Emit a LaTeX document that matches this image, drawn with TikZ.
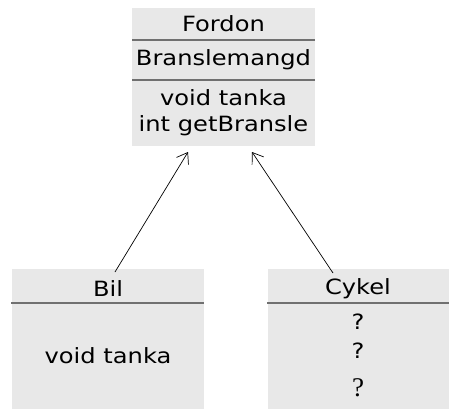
\documentclass[tikz,border=0pt]{standalone}
\usepackage{fontspec}
\setmainfont[FakeStretch=1.15]{DejaVu Sans}
\newfontfamily\qserif{Liberation Serif}
\usetikzlibrary{arrows.meta}
\definecolor{boxfill}{HTML}{E8E8E8}
\definecolor{rulegray}{HTML}{707070}
\tikzset{
  classbox/.style={fill=boxfill, draw=none, inner sep=0pt},
  divider/.style={draw=rulegray, line width=1.6pt},
  lbl/.style={inner sep=0pt, font=\fontsize{21}{23}\selectfont},
  inherit/.style={draw=black, line width=0.7pt, -{Straight Barb[length=10pt, width=14pt, line width=0.7pt]}}
}
\begin{document}
\begin{tikzpicture}[x=1pt, y=-1pt]
  \useasboundingbox (0,0) rectangle (449,410);

  % class boxes
  \node[classbox, minimum width=183pt, minimum height=138pt] (fordon) at (223.5,77) {};
  \node[classbox, minimum width=192pt, minimum height=140pt] (bil) at (108,339) {};
  \node[classbox, minimum width=181pt, minimum height=140pt] (cykel) at (358.5,339) {};

  % compartment dividers
  \draw[divider] (132,40) -- (315,40);
  \draw[divider] (132,80) -- (315,80);
  \draw[divider] (11,303) -- (204,303);
  \draw[divider] (267,303) -- (449,303);

  % Fordon
  \node[lbl] (fname) at (223.5,24) {Fordon};
  \node[lbl] (fattr) at (223.5,60) {Branslemangd};
  \node[lbl] (fop1) at (223.5,98) {void tanka};
  \node[lbl] (fop2) at (223.5,126) {int getBransle};

  % Bil
  \node[lbl] (bname) at (108,289) {Bil};
  \node[lbl] (bop) at (108,356) {void tanka};

  % Cykel
  \node[lbl] (cname) at (358,289) {Cykel};
  \node[lbl] (cq1) at (358,322) {?};
  \node[lbl] (cq2) at (358,351) {?};
  \node[lbl, font=\qserif\fontsize{27}{29}\selectfont] (cq3) at (358,388) {?};

  % generalisation arrows
  \coordinate (bilTop) at (115,272);
  \coordinate (bilTip) at (188,152);
  \coordinate (cykTop) at (333,273);
  \coordinate (cykTip) at (252,152);
  \draw[inherit] (bilTop) -- (bilTip);
  \draw[inherit] (cykTop) -- (cykTip);
\end{tikzpicture}
\end{document}
